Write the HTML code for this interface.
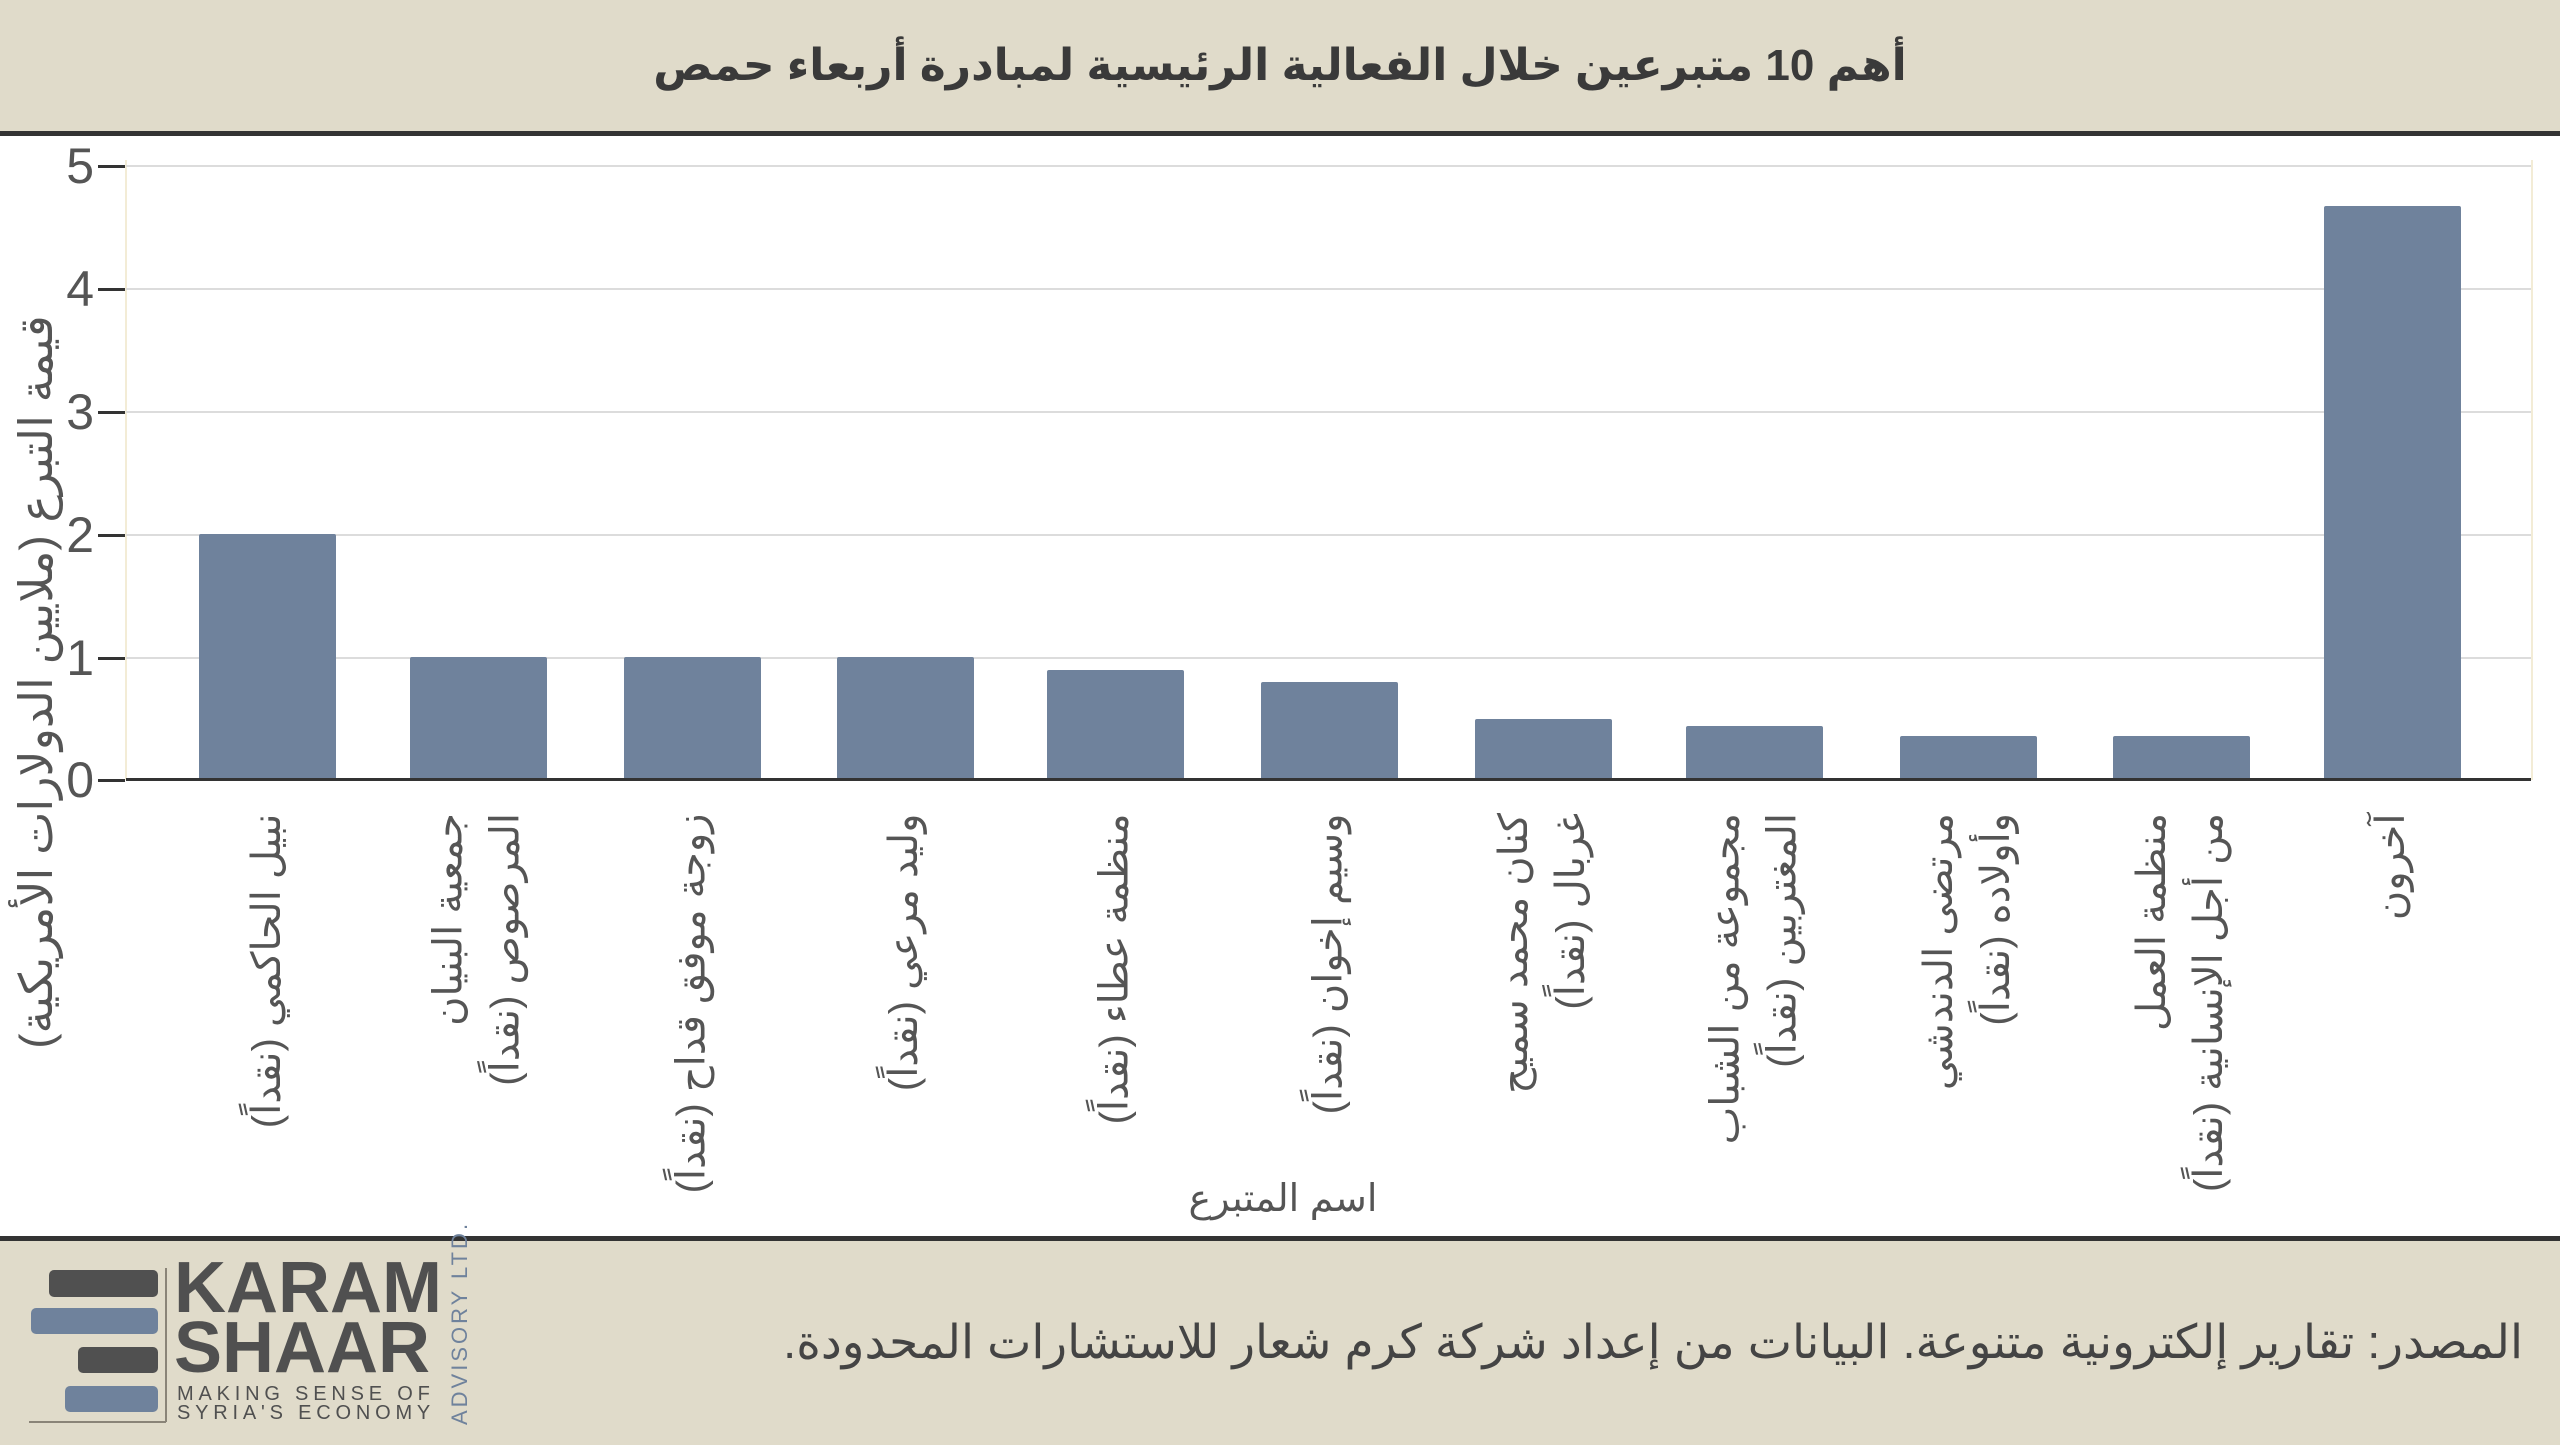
<!DOCTYPE html>
<html><head><meta charset="utf-8">
<style>
body{margin:0;width:2560px;height:1440px;position:relative;background:#fff;overflow:hidden;font-family:"Liberation Sans","Noto Sans CJK SC","DejaVu Sans",sans-serif;color:#555}
.abs{position:absolute}
.hdr{left:0;top:0;width:2560px;height:131px;background:#e0dbca;border-bottom:5px solid #333}
.ftr{left:0;top:1236px;width:2560px;height:204px;background:#e0dbca;border-top:5px solid #333}
.title{left:0;top:40px;width:2560px;text-align:center;font-weight:bold;font-size:44px;color:#3a3a3a;direction:rtl}
.grid{left:126px;width:2405px;height:2px;background:#dcdcdc}
.tick{left:98px;width:27px;height:3px;background:#333}
.tl{width:80px;left:14px;text-align:right;font-size:50px;color:#555;line-height:50px}
.bar{background:#6f829c;border-radius:2px 2px 0 0}
.xl{width:0;height:0;top:813px}
.xl>div{position:absolute;right:0;white-space:nowrap;direction:rtl;text-align:right;font-size:40px;line-height:57px;color:#555;transform-origin:100% 50%;transform:rotate(-90deg)}
</style></head><body>
<div class="abs hdr"></div>
<div class="abs title">أهم 10 متبرعين خلال الفعالية الرئيسية لمبادرة أربعاء حمص</div>

<div class="abs" style="left:125px;top:160px;width:2px;height:620px;background:#f3ecd6"></div>
<div class="abs" style="left:2531px;top:160px;width:2px;height:620px;background:#f3ecd6"></div>

<div class="abs grid" style="top:165px"></div>
<div class="abs grid" style="top:288px"></div>
<div class="abs grid" style="top:411px"></div>
<div class="abs grid" style="top:534px"></div>
<div class="abs grid" style="top:657px"></div>

<div class="abs tick" style="top:165px"></div>
<div class="abs tick" style="top:288px"></div>
<div class="abs tick" style="top:411px"></div>
<div class="abs tick" style="top:534px"></div>
<div class="abs tick" style="top:657px"></div>
<div class="abs tick" style="top:779px"></div>

<div class="abs tl" style="top:141px">5</div>
<div class="abs tl" style="top:264px">4</div>
<div class="abs tl" style="top:387px">3</div>
<div class="abs tl" style="top:510px">2</div>
<div class="abs tl" style="top:633px">1</div>
<div class="abs tl" style="top:755px">0</div>

<div class="abs" style="left:-514px;top:652px;width:1100px;text-align:center;direction:rtl;font-size:46px;line-height:60px;white-space:nowrap;transform:rotate(-90deg);color:#555">قيمة التبرع (ملايين الدولارات الأمريكية)</div>

<div class="abs bar" style="left:199px;width:137px;top:534px;height:246px"></div>
<div class="abs bar" style="left:410px;width:137px;top:657px;height:123px"></div>
<div class="abs bar" style="left:624px;width:137px;top:657px;height:123px"></div>
<div class="abs bar" style="left:837px;width:137px;top:657px;height:123px"></div>
<div class="abs bar" style="left:1047px;width:137px;top:670px;height:110px"></div>
<div class="abs bar" style="left:1261px;width:137px;top:682px;height:98px"></div>
<div class="abs bar" style="left:1475px;width:137px;top:719px;height:61px"></div>
<div class="abs bar" style="left:1686px;width:137px;top:726px;height:54px"></div>
<div class="abs bar" style="left:1900px;width:137px;top:736px;height:44px"></div>
<div class="abs bar" style="left:2113px;width:137px;top:736px;height:44px"></div>
<div class="abs bar" style="left:2324px;width:137px;top:206px;height:574px"></div>

<div class="abs" style="left:126px;top:778px;width:2405px;height:3px;background:#333"></div>

<div class="abs xl" style="left:268px"><div style="top:-28px">نبيل الحاكمي (نقداً)</div></div>
<div class="abs xl" style="left:478px"><div style="top:-57px">جمعية البنيان<br>المرصوص (نقداً)</div></div>
<div class="abs xl" style="left:692px"><div style="top:-28px">زوجة موفق قداح (نقداً)</div></div>
<div class="abs xl" style="left:905px"><div style="top:-28px">وليد مرعي (نقداً)</div></div>
<div class="abs xl" style="left:1115px"><div style="top:-28px">منظمة عطاء (نقداً)</div></div>
<div class="abs xl" style="left:1329px"><div style="top:-28px">وسيم إخوان (نقداً)</div></div>
<div class="abs xl" style="left:1543px"><div style="top:-57px">كنان محمد سميح<br>غربال (نقداً)</div></div>
<div class="abs xl" style="left:1754px"><div style="top:-57px">مجموعة من الشباب<br>المغتربين (نقداً)</div></div>
<div class="abs xl" style="left:1968px"><div style="top:-57px">مرتضى الدندشي<br>وأولاده (نقداً)</div></div>
<div class="abs xl" style="left:2181px"><div style="top:-57px">منظمة العمل<br>من أجل الإنسانية (نقداً)</div></div>
<div class="abs xl" style="left:2392px"><div style="top:-28px">آخرون</div></div>

<div class="abs" style="left:1083px;top:1176px;width:400px;text-align:center;font-size:38px;direction:rtl;color:#555">اسم المتبرع</div>

<div class="abs ftr"></div>
<div class="abs" style="left:49px;top:1270px;width:109px;height:27px;background:#505050;border-radius:5px"></div>
<div class="abs" style="left:31px;top:1308px;width:127px;height:26px;background:#6f829c;border-radius:5px"></div>
<div class="abs" style="left:78px;top:1347px;width:80px;height:26px;background:#505050;border-radius:5px"></div>
<div class="abs" style="left:65px;top:1386px;width:93px;height:26px;background:#6f829c;border-radius:5px"></div>
<div class="abs" style="left:165px;top:1268px;width:2px;height:154px;background:#8a8478"></div>
<div class="abs" style="left:29px;top:1421px;width:137px;height:2px;background:#8a8478"></div>
<div class="abs" style="left:174px;top:1258px;font-size:72px;font-weight:bold;color:#505050;line-height:60px;letter-spacing:0px">KARAM<br>SHAAR</div>
<div class="abs" style="left:177px;top:1385px;font-size:20px;color:#505050;line-height:19px;letter-spacing:4.8px">MAKING SENSE OF<br>SYRIA'S ECONOMY</div>
<div class="abs" style="left:380px;top:1332px;width:160px;text-align:center;font-size:22px;color:#6f829c;letter-spacing:3px;transform:rotate(-90deg);white-space:nowrap">ADVISORY LTD.</div>

<div class="abs" style="right:37px;top:1314px;font-size:47px;direction:rtl;color:#444;white-space:nowrap">المصدر: تقارير إلكترونية متنوعة. البيانات من إعداد شركة كرم شعار للاستشارات المحدودة.</div>
</body></html>
